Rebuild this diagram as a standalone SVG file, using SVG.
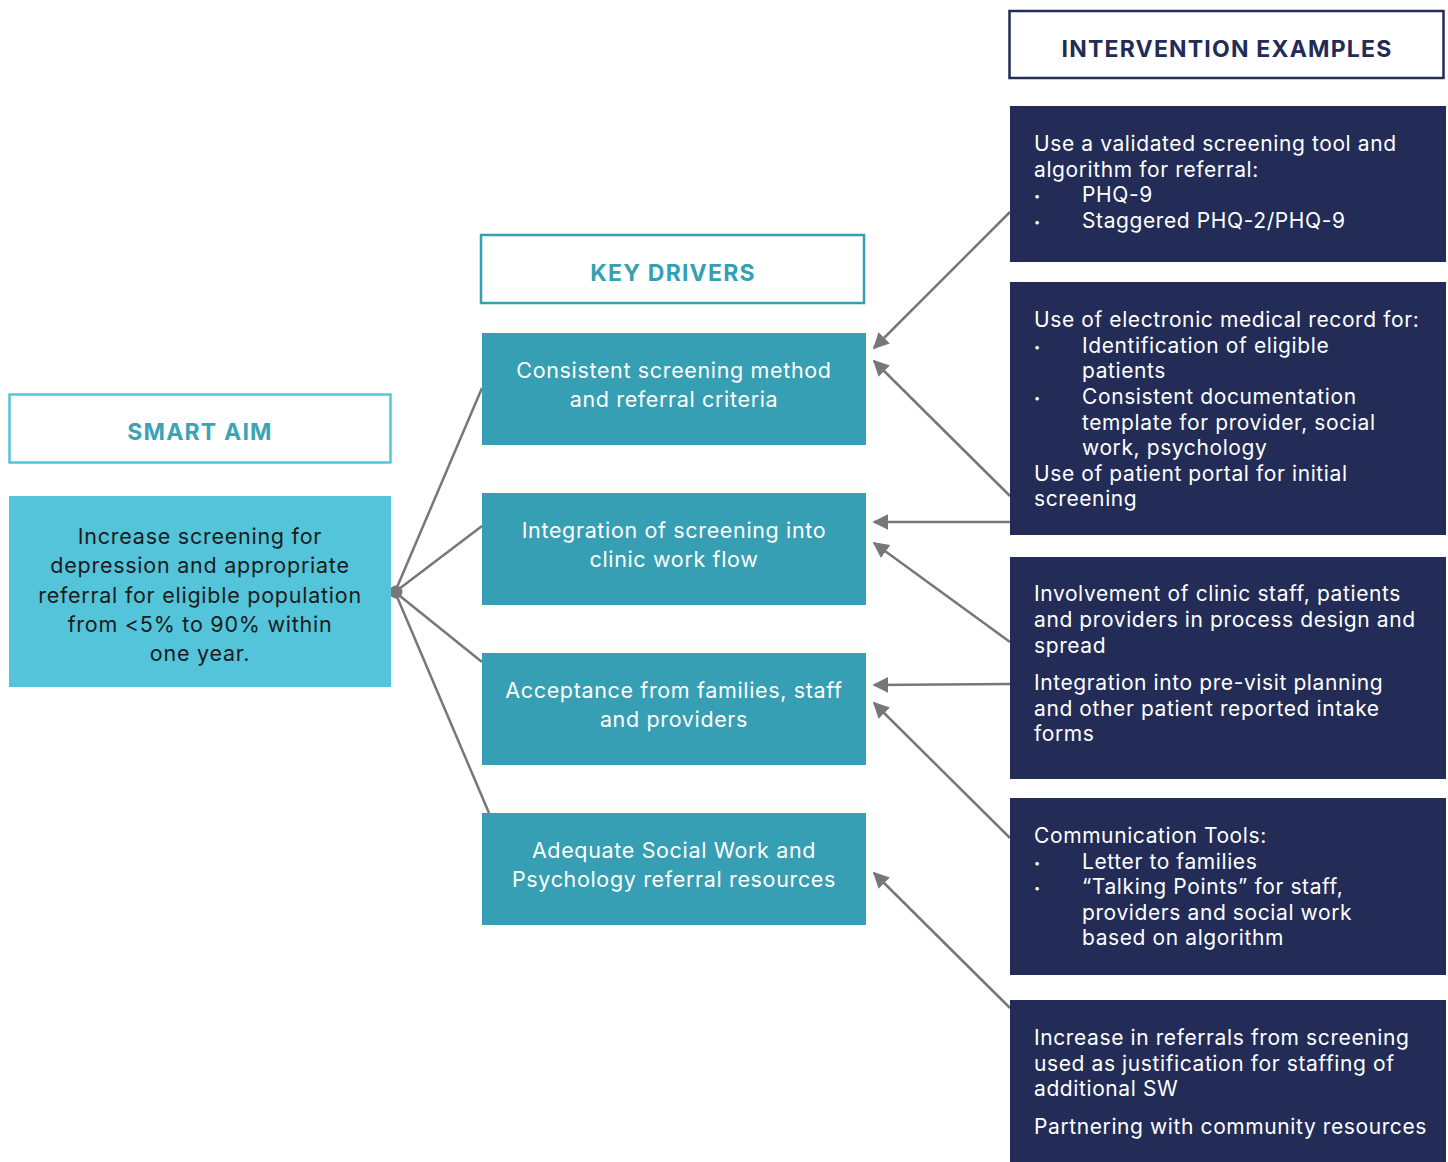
<svg xmlns="http://www.w3.org/2000/svg" width="1448" height="1162" viewBox="0 0 1448 1162">
<defs>
<style>
.hdr{fill:#fff;stroke-width:2.5}
.ht{font-family:Inter,"Noto Sans",sans-serif;font-weight:700;font-size:23px;letter-spacing:1.2px;text-anchor:middle}
.drv{fill:#369fb3}
.dt{font-family:Inter,"Noto Sans",sans-serif;font-size:21.5px;letter-spacing:0.65px;fill:#fff;text-anchor:middle}
.iv{fill:#222c56}
.it{font-family:Inter,"Noto Sans",sans-serif;font-size:21px;letter-spacing:0.6px;fill:#fff}
.bu{font-family:Inter,"Noto Sans",sans-serif;font-size:11px;fill:#fff}
.at{font-family:Inter,"Noto Sans",sans-serif;font-size:21.5px;letter-spacing:0.75px;fill:#1b1b1b;text-anchor:middle}
.ln{stroke:#777;stroke-width:2.5;fill:none}
</style>
<marker id="arr" viewBox="0 0 10 10" refX="9" refY="5" markerWidth="16" markerHeight="16" markerUnits="userSpaceOnUse" orient="auto">
<path d="M0,0 L10,5 L0,10 Z" fill="#777"/>
</marker>
</defs>
<rect width="1448" height="1162" fill="#fff"/>

<g id="connectors">
<line class="ln" x1="395" y1="592" x2="482" y2="388"/>
<line class="ln" x1="395" y1="592" x2="482" y2="526"/>
<line class="ln" x1="395" y1="592" x2="482" y2="662"/>
<line class="ln" x1="395" y1="592" x2="489" y2="813"/>
<circle cx="396" cy="592" r="6.5" fill="#777"/>
<line class="ln" x1="1010" y1="212" x2="874" y2="348" marker-end="url(#arr)"/>
<line class="ln" x1="1010" y1="496" x2="874" y2="361" marker-end="url(#arr)"/>
<line class="ln" x1="1010" y1="522" x2="874" y2="522" marker-end="url(#arr)"/>
<line class="ln" x1="1010" y1="642" x2="874" y2="543" marker-end="url(#arr)"/>
<line class="ln" x1="1010" y1="684" x2="874" y2="685" marker-end="url(#arr)"/>
<line class="ln" x1="1010" y1="838" x2="874" y2="703" marker-end="url(#arr)"/>
<line class="ln" x1="1010" y1="1008" x2="874" y2="873" marker-end="url(#arr)"/>
</g>

<g id="smart-aim-header">
<rect class="hdr" x="9.5" y="394.5" width="381" height="68" stroke="#55c5da"/>
<text class="ht" x="200" y="440" fill="#3ba3b5">SMART AIM</text>
</g>
<g id="smart-aim">
<rect x="9" y="496" width="382" height="191" fill="#54c4da"/>
<text class="at" x="200" y="544">Increase screening for</text>
<text class="at" x="200" y="573">depression and appropriate</text>
<text class="at" x="200" y="603">referral for eligible population</text>
<text class="at" x="200" y="632">from &lt;5% to 90% within</text>
<text class="at" x="200" y="661">one year.</text>
</g>

<g id="key-drivers-header">
<rect class="hdr" x="481" y="235" width="383" height="68" stroke="#36a0b3"/>
<text class="ht" x="673" y="281" fill="#36a0b3">KEY DRIVERS</text>
</g>
<g id="driver-1">
<rect class="drv" x="482" y="333" width="384" height="112"/>
<text class="dt" x="674" y="378">Consistent screening method</text>
<text class="dt" x="674" y="407">and referral criteria</text>
</g>
<g id="driver-2">
<rect class="drv" x="482" y="493" width="384" height="112"/>
<text class="dt" x="674" y="538">Integration of screening into</text>
<text class="dt" x="674" y="567">clinic work flow</text>
</g>
<g id="driver-3">
<rect class="drv" x="482" y="653" width="384" height="112"/>
<text class="dt" x="674" y="698">Acceptance from families, staff</text>
<text class="dt" x="674" y="727">and providers</text>
</g>
<g id="driver-4">
<rect class="drv" x="482" y="813" width="384" height="112"/>
<text class="dt" x="674" y="858">Adequate Social Work and</text>
<text class="dt" x="674" y="887">Psychology referral resources</text>
</g>

<g id="intervention-header">
<rect class="hdr" x="1009.5" y="11" width="434" height="67" stroke="#222c56"/>
<text class="ht" x="1227" y="57" fill="#222c56">INTERVENTION EXAMPLES</text>
</g>
<g id="intervention-1">
<rect class="iv" x="1010" y="106" width="436" height="156"/>
<text class="it" x="1034" y="151">Use a validated screening tool and</text>
<text class="it" x="1034" y="177">algorithm for referral:</text>
<text class="bu" x="1034" y="200">•</text><text class="it" x="1082" y="202">PHQ-9</text>
<text class="bu" x="1034" y="226">•</text><text class="it" x="1082" y="228">Staggered PHQ-2/PHQ-9</text>
</g>
<g id="intervention-2">
<rect class="iv" x="1010" y="282" width="436" height="253"/>
<text class="it" x="1034" y="327">Use of electronic medical record for:</text>
<text class="bu" x="1034" y="351">•</text><text class="it" x="1082" y="353">Identification of eligible</text>
<text class="it" x="1082" y="378">patients</text>
<text class="bu" x="1034" y="402">•</text><text class="it" x="1082" y="404">Consistent documentation</text>
<text class="it" x="1082" y="430">template for provider, social</text>
<text class="it" x="1082" y="455">work, psychology</text>
<text class="it" x="1034" y="481">Use of patient portal for initial</text>
<text class="it" x="1034" y="506">screening</text>
</g>
<g id="intervention-3">
<rect class="iv" x="1010" y="557" width="436" height="222"/>
<text class="it" x="1034" y="601">Involvement of clinic staff, patients</text>
<text class="it" x="1034" y="627">and providers in process design and</text>
<text class="it" x="1034" y="653">spread</text>
<text class="it" x="1034" y="690">Integration into pre-visit planning</text>
<text class="it" x="1034" y="716">and other patient reported intake</text>
<text class="it" x="1034" y="741">forms</text>
</g>
<g id="intervention-4">
<rect class="iv" x="1010" y="798" width="436" height="177"/>
<text class="it" x="1034" y="843">Communication Tools:</text>
<text class="bu" x="1034" y="867">•</text><text class="it" x="1082" y="869">Letter to families</text>
<text class="bu" x="1034" y="892">•</text><text class="it" x="1082" y="894">“Talking Points” for staff,</text>
<text class="it" x="1082" y="920">providers and social work</text>
<text class="it" x="1082" y="945">based on algorithm</text>
</g>
<g id="intervention-5">
<rect class="iv" x="1010" y="1000" width="436" height="162"/>
<text class="it" x="1034" y="1045">Increase in referrals from screening</text>
<text class="it" x="1034" y="1071">used as justification for staffing of</text>
<text class="it" x="1034" y="1096">additional SW</text>
<text class="it" x="1034" y="1134">Partnering with community resources</text>
</g>
</svg>
